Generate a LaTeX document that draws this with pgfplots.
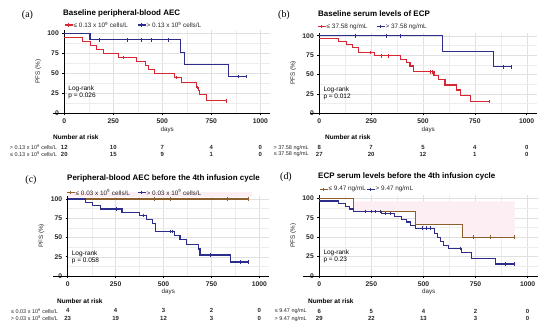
\documentclass[border=0pt]{standalone}
\usepackage{fontspec}
\setmainfont{Liberation Sans}
\newfontfamily\seriffont{Liberation Serif}
\usepackage{pgfplots}
\pgfplotsset{compat=1.18}

\definecolor{kmred}{RGB}{214,39,52}
\definecolor{kmblue}{RGB}{45,45,140}
\definecolor{kmbrown}{RGB}{140,95,45}
\definecolor{kmpink}{RGB}{253,238,244}

\newcommand{\fs}[1]{\fontsize{#1}{#1}\selectfont}

\pgfplotsset{
  kmaxis/.style={
    scale only axis, anchor=south west, clip=false,
    xmin=0, xmax=1050, ymin=0, ymax=104,
    xtick={0,250,500,750,1000}, ytick={0,25,50,75,100},
    minor xtick={125,375,625,875}, minor ytick={12.5,37.5,62.5,87.5},
    grid=both, major grid style={black!12, line width=0.4bp}, minor grid style={black!7, line width=0.3bp},
    axis x line*=bottom, axis y line*=left,
    axis line style={black, line width=0.8bp},
    tick align=outside, major tick length=2bp, minor tick length=0bp,
    tick style={black, line width=0.6bp},
    tick label style={font=\bfseries\fs{6.8}, text=black!85},
    /pgf/number format/assume math mode=true,
    /pgf/number format/1000 sep={},
    xlabel={days}, ylabel={PFS (\%)},
    label style={font=\fs{6.3}, text=black!85},
    xlabel style={yshift=4bp},
    ylabel style={yshift=-0.5bp},
  },
  kmline/.style={const plot, line width=1.1bp, mark=none},
  kmcens/.style={only marks, mark=|, mark size=1.8bp, mark options={line width=0.6bp}},
}

% risk row: #1 x0, #2 scale, #3 y, #4 label x, #5 label, #6..#9 numbers at 0,250,500,750 ; 1000 -> 0
\newcommand{\riskrow}[9]{%
  \node[anchor=east, font=\fs{5.5}, inner sep=0, text=black!85] at (#4,#3) {#5};
  \node[font=\bfseries\fs{6}, inner sep=0, text=black!85] at ({#1},#3) {#6};
  \node[font=\bfseries\fs{6}, inner sep=0, text=black!85] at ({#1+0.25*#2},#3) {#7};
  \node[font=\bfseries\fs{6}, inner sep=0, text=black!85] at ({#1+0.5*#2},#3) {#8};
  \node[font=\bfseries\fs{6}, inner sep=0, text=black!85] at ({#1+0.75*#2},#3) {#9};
  \node[font=\bfseries\fs{6}, inner sep=0, text=black!85] at ({#1+#2},#3) {0};
}
\newcommand{\legitem}[4]{% #1 colour, #2 x, #3 y, #4 text
  \draw[#1, line width=1.1bp] (#2,#3) -- ({#2+7.5},#3);
  \draw[#1, line width=0.6bp] ({#2+3.75},{#3-1.6}) -- ({#2+3.75},{#3+1.6});
  \node[anchor=west, font=\fs{6.4}, inner sep=0, text=black!85] at ({#2+8.5},#3) {#4};
}

\begin{document}
\begin{tikzpicture}
\useasboundingbox (0bp,0bp) rectangle (550bp,-330bp);

% ================= axes =================
\begin{axis}[kmaxis, at={(64.3bp,-113.3bp)}, width=205.8bp, height=83.2bp]
\draw[black, line width=0.8bp] (axis cs:-57,0) -- (axis cs:0,0);
\addplot[kmline, kmred] coordinates {(0,95)(93,90)(134,85)(165,80)(199,75)(275,70)(369,65)(415,60)(428,55)(458,50)(560,45)(598,38.5)(675,32.5)(683,28.5)(690,23)(726,15.5)(828,15.5)};
\addplot[kmcens, kmred] coordinates {(301,70)(570,45)(678,32.5)(828,15.5)};
\addplot[kmline, kmblue] coordinates {(0,100)(131,91.7)(595,76.4)(612,61.1)(840,45.8)(930,45.8)};
\addplot[kmcens, kmblue] coordinates {(178,91.7)(322,91.7)(392,91.7)(443,91.7)(532,91.7)(890,45.8)(930,45.8)};
\end{axis}

\begin{axis}[kmaxis, at={(319.3bp,-113.3bp)}, width=217.8bp, height=80.7bp]
\draw[black, line width=0.8bp] (axis cs:-45,0) -- (axis cs:0,0);
\addplot[kmline, kmred] coordinates {(0,96.3)(92,92.6)(132,88.9)(162,85.2)(190,78.5)(265,74)(390,69.5)(420,65)(437,61)(455,53.5)(553,48.5)(574,43)(606,36.5)(662,30)(679,22.5)(727,15)(820,15)};
\addplot[kmcens, kmred] coordinates {(245,78.5)(300,74)(335,74)(534,53.5)(547,53.5)(820,15)};
\addplot[kmline, kmblue] coordinates {(0,100)(595,80)(839,60)(928,60)};
\addplot[kmcens, kmblue] coordinates {(175,100)(325,100)(392,100)(888,60)(928,60)};
\end{axis}

\begin{axis}[kmaxis, at={(67.7bp,-276bp)}, width=201.3bp, height=80.1bp]
\addplot[fill=kmpink, draw=none, forget plot] coordinates {(0,103)(960,103)(960,109.5)(0,109.5)} -- cycle;
\draw[black, line width=0.8bp] (axis cs:-75,0) -- (axis cs:0,0);
\addplot[kmline, kmbrown] coordinates {(0,100)(942,100)};
\addplot[kmcens, kmbrown] coordinates {(450,100)(537,100)(830,100)(942,100)};
\addplot[kmline, kmblue] coordinates {(0,100)(95,95.7)(130,91.3)(170,87)(283,82.6)(375,78.3)(412,73.4)(440,68.5)(460,58)(557,52.5)(586,47)(620,41)(680,35)(690,27.3)(847,18.2)(940,18.2)};
\addplot[kmcens, kmblue] coordinates {(252,87)(392,78.3)(535,58)(548,58)(742,27.3)(899,18.2)(940,18.2)};
\end{axis}

\begin{axis}[kmaxis, at={(319.3bp,-276bp)}, width=218.7bp, height=80.8bp]
\addplot[fill=kmpink, draw=none, forget plot] coordinates {(164,96)(164,83.3)(463,83.3)(463,66.7)(686,66.7)(686,50)(938,50)(938,96)} -- cycle;
\draw[black, line width=0.8bp] (axis cs:-78,0) -- (axis cs:0,0);
\addplot[kmline, kmbrown] coordinates {(0,100)(164,83.3)(463,66.7)(686,50)(938,50)};
\addplot[kmcens, kmbrown] coordinates {(739,50)(822,50)(938,50)};
\addplot[kmline, kmblue] coordinates {(0,96.6)(93,93.1)(127,89.7)(145,86.2)(165,82.8)(300,80.2)(363,76.5)(395,73.3)(419,69.5)(437,65.5)(460,61.4)(553,55)(568,50)(582,44.5)(597,39)(619,35.5)(683,30.5)(731,22.8)(847,15.4)(934,15.4)};
\addplot[kmcens, kmblue] coordinates {(219,82.8)(251,82.8)(267,82.8)(291,82.8)(315,80.2)(339,80.2)(495,61.4)(515,61.4)(531,61.4)(675,35.5)(891,15.4)(934,15.4)};
\end{axis}

\begin{scope}[x=1bp,y=-1bp]
% ================= (a) =================
\node[font=\seriffont\fs{10}] at (27.5,15) {(a)};
\node[anchor=west, font=\bfseries\fs{8}, inner sep=0] at (63,13) {Baseline peripheral-blood AEC};
\legitem{kmred}{65}{25}{≤ 0.13 x 10\textsuperscript{9} cells/L}
\legitem{kmblue}{138}{25}{> 0.13 x 10\textsuperscript{9} cells/L}
\node[anchor=west, font=\fs{6.5}, inner sep=0] at (68.3,89.3) {Log-rank};
\node[anchor=west, font=\fs{6.5}, inner sep=0] at (68.3,95.9) {p = 0.026};
\node[anchor=west, font=\bfseries\fs{6.5}, inner sep=0] at (53,136.7) {Number at risk};
\riskrow{64.3}{196}{147}{57}{> 0.13 x 10\textsuperscript{9} cells/L}{12}{10}{7}{4}
\riskrow{64.3}{196}{154.5}{57}{≤ 0.13 x 10\textsuperscript{9} cells/L}{20}{15}{9}{1}

% ================= (b) =================
\node[font=\seriffont\fs{10}] at (284,15) {(b)};
\node[anchor=west, font=\bfseries\fs{8}, inner sep=0] at (318,14) {Baseline serum levels of ECP};
\legitem{kmred}{318}{26.7}{≤ 37.58 ng/mL}
\legitem{kmblue}{377}{26.7}{> 37.58 ng/mL}
\node[anchor=west, font=\fs{6.5}, inner sep=0] at (323.3,90) {Log-rank};
\node[anchor=west, font=\fs{6.5}, inner sep=0] at (323.3,96.6) {p = 0.012};
\node[anchor=west, font=\bfseries\fs{6.5}, inner sep=0] at (325,136.7) {Number at risk};
\riskrow{319.3}{207.4}{147.7}{309}{> 37.58 ng/mL}{8}{7}{5}{4}
\riskrow{319.3}{207.4}{154.5}{309}{≤ 37.58 ng/mL}{27}{20}{12}{1}

% ================= (c) =================
\node[font=\seriffont\fs{10}] at (31,180) {(c)};
\node[anchor=west, font=\bfseries\fs{8}, inner sep=0] at (67,178.5) {Peripheral-blood AEC before the 4th infusion cycle};
\legitem{kmbrown}{67}{192.3}{≤ 0.03 x 10\textsuperscript{9} cells/L}
\legitem{kmblue}{138}{192.3}{> 0.03 x 10\textsuperscript{9} cells/L}
\node[anchor=west, font=\fs{6.5}, inner sep=0] at (71.7,254) {Log-rank};
\node[anchor=west, font=\fs{6.5}, inner sep=0] at (71.7,260.6) {p = 0.058};
\node[anchor=west, font=\bfseries\fs{6.5}, inner sep=0] at (57,300.7) {Number at risk};
\riskrow{67.7}{191.7}{310.7}{58}{≤ 0.03 x 10\textsuperscript{9} cells/L}{4}{4}{3}{2}
\riskrow{67.7}{191.7}{318.5}{58}{> 0.03 x 10\textsuperscript{9} cells/L}{23}{19}{12}{3}

% ================= (d) =================
\node[font=\seriffont\fs{10}] at (286,177) {(d)};
\node[anchor=west, font=\bfseries\fs{8}, inner sep=0] at (318,176.7) {ECP serum levels before the 4th infusion cycle};
\legitem{kmbrown}{320}{189.3}{≤ 9.47 ng/mL}
\legitem{kmblue}{367}{189.3}{> 9.47 ng/mL}
\node[anchor=west, font=\fs{6.5}, inner sep=0] at (323.3,253.3) {Log-rank};
\node[anchor=west, font=\fs{6.5}, inner sep=0] at (323.3,259.9) {p = 0.23};
\node[anchor=west, font=\bfseries\fs{6.5}, inner sep=0] at (308,300.7) {Number at risk};
\riskrow{319.3}{208.3}{311}{307}{≤ 9.47 ng/mL}{6}{5}{4}{2}
\riskrow{319.3}{208.3}{318.7}{307}{> 9.47 ng/mL}{29}{22}{13}{3}
\end{scope}

\end{tikzpicture}
\end{document}
